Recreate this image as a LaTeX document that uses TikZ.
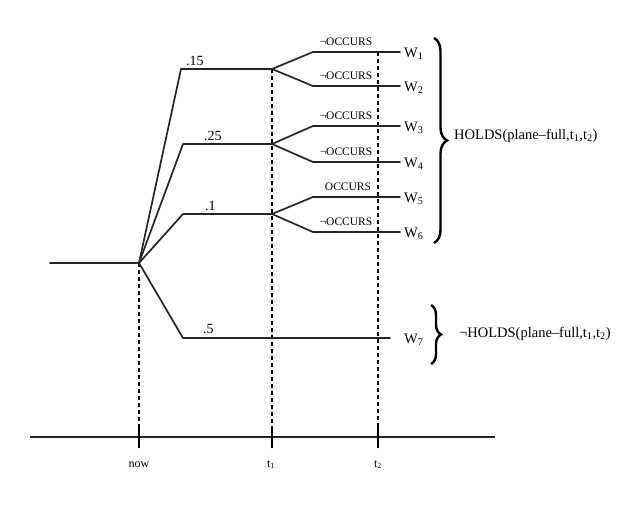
\documentclass[tikz,border=0pt]{standalone}
\usepackage{fontspec}
\setmainfont{Liberation Serif}
\usetikzlibrary{decorations.pathreplacing}
\begin{document}
\begin{tikzpicture}[x=1pt,y=-1pt,
  branch/.style={line width=1.7pt, line join=round, line cap=round, draw=black!85},
  guide/.style={line width=1.4pt, dash pattern=on 4pt off 3pt},
  axis/.style={line width=2pt, draw=black!85},
  tickmark/.style={line width=2.2pt},
  occ/.style={font=\fontsize{11.5}{12}\selectfont, inner sep=0pt, anchor=base},
  prob/.style={font=\fontsize{14}{15}\selectfont, inner sep=0pt, anchor=base west},
  wlab/.style={font=\fontsize{14.5}{16}\selectfont, inner sep=0pt, anchor=base west},
  tlab/.style={font=\fontsize{12}{13}\selectfont, inner sep=0pt, anchor=base},
  hlab/.style={font=\fontsize{14.5}{16}\selectfont, inner sep=0pt, anchor=west},
  bigbrace/.style={line width=2.4pt, decorate, decoration={brace, amplitude=#1}},
]
\useasboundingbox (0,0) rectangle (632,520);

% coordinates
\coordinate (start) at (50,263);
\coordinate (now) at (139,263);
\coordinate (a1) at (181,69);  \coordinate (a2) at (272,69);
\coordinate (b1) at (183,144); \coordinate (b2) at (272,144);
\coordinate (c1) at (183,214); \coordinate (c2) at (272,214);
\coordinate (d1) at (183,338); \coordinate (d2) at (390,338);
\coordinate (w1s) at (313,52);  \coordinate (w1e) at (400,52);
\coordinate (w2s) at (313,86);  \coordinate (w2e) at (400,86);
\coordinate (w3s) at (313,126); \coordinate (w3e) at (400,126);
\coordinate (w4s) at (313,162); \coordinate (w4e) at (400,162);
\coordinate (w5s) at (313,197); \coordinate (w5e) at (400,197);
\coordinate (w6s) at (313,232); \coordinate (w6e) at (400,232);
\coordinate (t1top) at (272,69);
\coordinate (t2top) at (378,52);
\coordinate (nowax) at (139,437);
\coordinate (t1ax) at (272,437);
\coordinate (t2ax) at (378,437);
\coordinate (axl) at (30,437);
\coordinate (axr) at (495,437);

% dashed guides
\draw[guide] (now) -- (nowax);
\draw[guide] (t1top) -- (t1ax);
\draw[guide] (t2top) -- (t2ax);

% tree
\draw[branch] (start) -- (now);
\draw[branch] (now) -- (a1) -- (a2);
\draw[branch] (now) -- (b1) -- (b2);
\draw[branch] (now) -- (c1) -- (c2);
\draw[branch] (now) -- (d1) -- (d2);
\draw[branch] (a2) -- (w1s) -- (w1e);
\draw[branch] (a2) -- (w2s) -- (w2e);
\draw[branch] (b2) -- (w3s) -- (w3e);
\draw[branch] (b2) -- (w4s) -- (w4e);
\draw[branch] (c2) -- (w5s) -- (w5e);
\draw[branch] (c2) -- (w6s) -- (w6e);

% probabilities
\node[prob] (p15) at (186,65) {.15};
\node[prob] (p25) at (204,140) {.25};
\node[prob] (p1) at (205,210) {.1};
\node[prob] (p5) at (203,333) {.5};

% occurs labels
\node[occ] (o1) at (346,45) {¬OCCURS};
\node[occ] (o2) at (346,79) {¬OCCURS};
\node[occ] (o3) at (346,119) {¬OCCURS};
\node[occ] (o4) at (346,155) {¬OCCURS};
\node[occ] (o5) at (348,190) {OCCURS};
\node[occ] (o6) at (346,225) {¬OCCURS};

% world labels
\node[wlab] (W1) at (404,57) {W\textsubscript{1}};
\node[wlab] (W2) at (404,91) {W\textsubscript{2}};
\node[wlab] (W3) at (404,131) {W\textsubscript{3}};
\node[wlab] (W4) at (404,167) {W\textsubscript{4}};
\node[wlab] (W5) at (404,202) {W\textsubscript{5}};
\node[wlab] (W6) at (404,237) {W\textsubscript{6}};
\node[wlab] (W7) at (404,343) {W\textsubscript{7}};

% braces
\coordinate (br1a) at (434,38);
\coordinate (br1b) at (434,243);
\coordinate (br2a) at (431,305);
\coordinate (br2b) at (431,364);
\draw[bigbrace=13pt] (br1a) -- (br1b);
\draw[bigbrace=10pt] (br2a) -- (br2b);
\node[hlab] (holds) at (454,136) {HOLDS(plane--full,t\textsubscript{1},t\textsubscript{2})};
\node[hlab] (nholds) at (459,334) {¬HOLDS(plane--full,t\textsubscript{1},t\textsubscript{2})};

% time axis
\draw[axis] (axl) -- (axr);
\draw[tickmark] ([yshift=-11pt]nowax) -- ([yshift=10pt]nowax);
\draw[tickmark] ([yshift=-11pt]t1ax) -- ([yshift=10pt]t1ax);
\draw[tickmark] ([yshift=-11pt]t2ax) -- ([yshift=10pt]t2ax);
\node[tlab] (lnow) at (139,467) {now};
\node[tlab] (lt1) at (271,467) {t\textsubscript{1}};
\node[tlab] (lt2) at (378,467) {t\textsubscript{2}};
\end{tikzpicture}
\end{document}
